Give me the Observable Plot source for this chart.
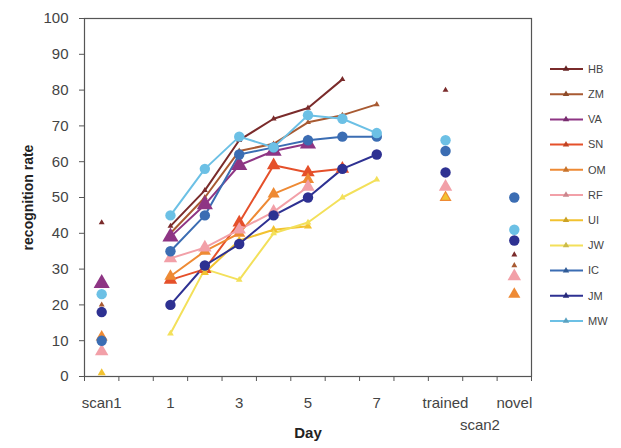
<!DOCTYPE html>
<html><head><meta charset="utf-8">
<script src="https://cdn.jsdelivr.net/npm/d3@7"></script>
<script src="https://cdn.jsdelivr.net/npm/@observablehq/plot@0.6"></script>
<style>
body{margin:0;background:#fff;font-family:"Liberation Sans",Arial,sans-serif;}
#chart{width:621px;height:448px;}
</style>
</head><body><div id="chart"></div>
<script>
// x slots (blank slots are gaps on the axis)
const slots = ["scan1", "", "1", "2", "3", "4", "5", "6", "7", " ", "trained", "  ", "novel"];
const categories = ["scan1", "1", "2", "3", "4", "5", "6", "7", "trained", "novel"];
const dayCategories = ["1", "2", "3", "4", "5", "6", "7"];
const tickLabels = ["scan1", "1", "3", "5", "7", "trained", "novel"];
const yTicks = [0, 10, 20, 30, 40, 50, 60, 70, 80, 90, 100];

const seriesNames = ["HB", "ZM", "VA", "SN", "OM", "RF", "UI", "JW", "IC", "JM", "MW"];
const seriesColors = ["#7a2b2b", "#a85a32", "#8e3584", "#e5502a", "#ee8a34", "#f2a0a8", "#f2c230", "#f3e05a", "#3b6db3", "#2e3192", "#6cc0e5"];
const seriesSymbols = ["triangle", "triangle", "triangle", "triangle", "triangle", "triangle", "triangle", "triangle", "circle", "circle", "circle"];
const seriesSizes = [2.2, 2.2, 6, 5, 4.5, 5, 3, 2.5, 5.2, 5.2, 5.2];

// values per category: scan1, 1..7, trained, novel
const HB = [43, 42, 52, 66, 72, 75, 83, null, 80, 34];
const ZM = [20, 40, 50, 63, 65, 71, 73, 76, null, 31];
const VA = [26, 39, 48, 59, 63, 65, null, null, null, null];
const SN = [null, 27, 30, 43, 59, 57, 58, null, null, null];
const OM = [11, 28, 35, 40, 51, 55, null, null, 50, 23];
const RF = [7, 33, 36, 41, 46, 53, null, null, 53, 28];
const UI = [1, null, 29, 38, 41, 42, null, null, 50, null];
const JW = [null, 12, 30, 27, 40, 43, 50, 55, null, null];
const IC = [10, 35, 45, 62, 64, 66, 67, 67, 63, 50];
const JM = [18, 20, 31, 37, 45, 50, 58, 62, 57, 38];
const MW = [23, 45, 58, 67, 64, 73, 72, 68, 66, 41];
const seriesValues = [HB, ZM, VA, SN, OM, RF, UI, JW, IC, JM, MW];

const rows = [];
seriesNames.forEach((s, si) => {
  categories.forEach((c, ci) => {
    rows.push({series: s, cat: c, pos: slots.indexOf(c), v: seriesValues[si][ci]});
  });
});
const lineRows = rows.filter(d => dayCategories.includes(d.cat));
const dotRows = rows.filter(d => d.v != null);

const marks = [];
marks.push(Plot.line(lineRows, {x: "pos", y: "v", z: "series", stroke: "series", strokeWidth: 2}));
seriesNames.forEach((s, si) => {
  marks.push(Plot.dot(dotRows.filter(d => d.series === s), {
    x: "pos", y: "v", fill: seriesColors[si], symbol: seriesSymbols[si], r: seriesSizes[si], stroke: "none"
  }));
});
marks.push(Plot.frame({stroke: "#555", strokeWidth: 1.2}));
marks.push(Plot.axisY({ticks: yTicks, tickSize: 5, tickPadding: 11, fontSize: 15, label: null, stroke: "#555", fill: "#444"}));
marks.push(Plot.axisX({ticks: d3.range(-0.5, slots.length, 1), tickFormat: () => "", tickSize: 5, label: null, stroke: "#555"}));
marks.push(Plot.axisX({ticks: tickLabels.map(t => slots.indexOf(t)), tickFormat: i => slots[i], tickSize: 0, tickPadding: 21, fontSize: 15, label: null, fill: "#444"}));
marks.push(Plot.axisX({ticks: [slots.indexOf("  ")], tickFormat: () => "scan2", tickSize: 0, tickPadding: 43, fontSize: 15, label: null, fill: "#444"}));
marks.push(Plot.text(["Day"], {frameAnchor: "bottom", dy: 61, fontSize: 15, fontWeight: "bold", fill: "#222"}));
marks.push(Plot.text(["recognition rate"], {frameAnchor: "left", dx: -56, rotate: -90, textAnchor: "middle", fontSize: 14, fontWeight: "bold", fill: "#222", style: "letter-spacing:1px"}));

const chart = Plot.plot({
  width: 621, height: 448,
  marginLeft: 84, marginRight: 90, marginTop: 18, marginBottom: 72,
  style: {fontFamily: "'Liberation Sans', Arial, sans-serif", color: "#333", background: "#fff"},
  x: {type: "linear", domain: [-0.5, slots.length - 0.5], axis: null},
  y: {domain: [0, 100], axis: null},
  color: {domain: seriesNames, range: seriesColors},
  marks
});
document.getElementById("chart").appendChild(chart);

// legend at the right
const svg = d3.select(chart);
const lg = svg.append("g").attr("font-size", 11).attr("fill", "#444").attr("text-anchor", "start");
seriesNames.forEach((s, i) => {
  const y = 69 + i * 25.2;
  lg.append("line").attr("x1", 550).attr("x2", 583).attr("y1", y).attr("y2", y)
    .attr("stroke", seriesColors[i]).attr("stroke-width", 2);
  lg.append("path").attr("d", d3.symbol(d3.symbolTriangle, 18)())
    .attr("transform", `translate(566,${y})`).attr("fill", d3.color(seriesColors[i]).darker(0.5));
  lg.append("text").attr("x", 588).attr("y", y).attr("dy", "0.35em").text(s);
});
</script>
</body></html>
